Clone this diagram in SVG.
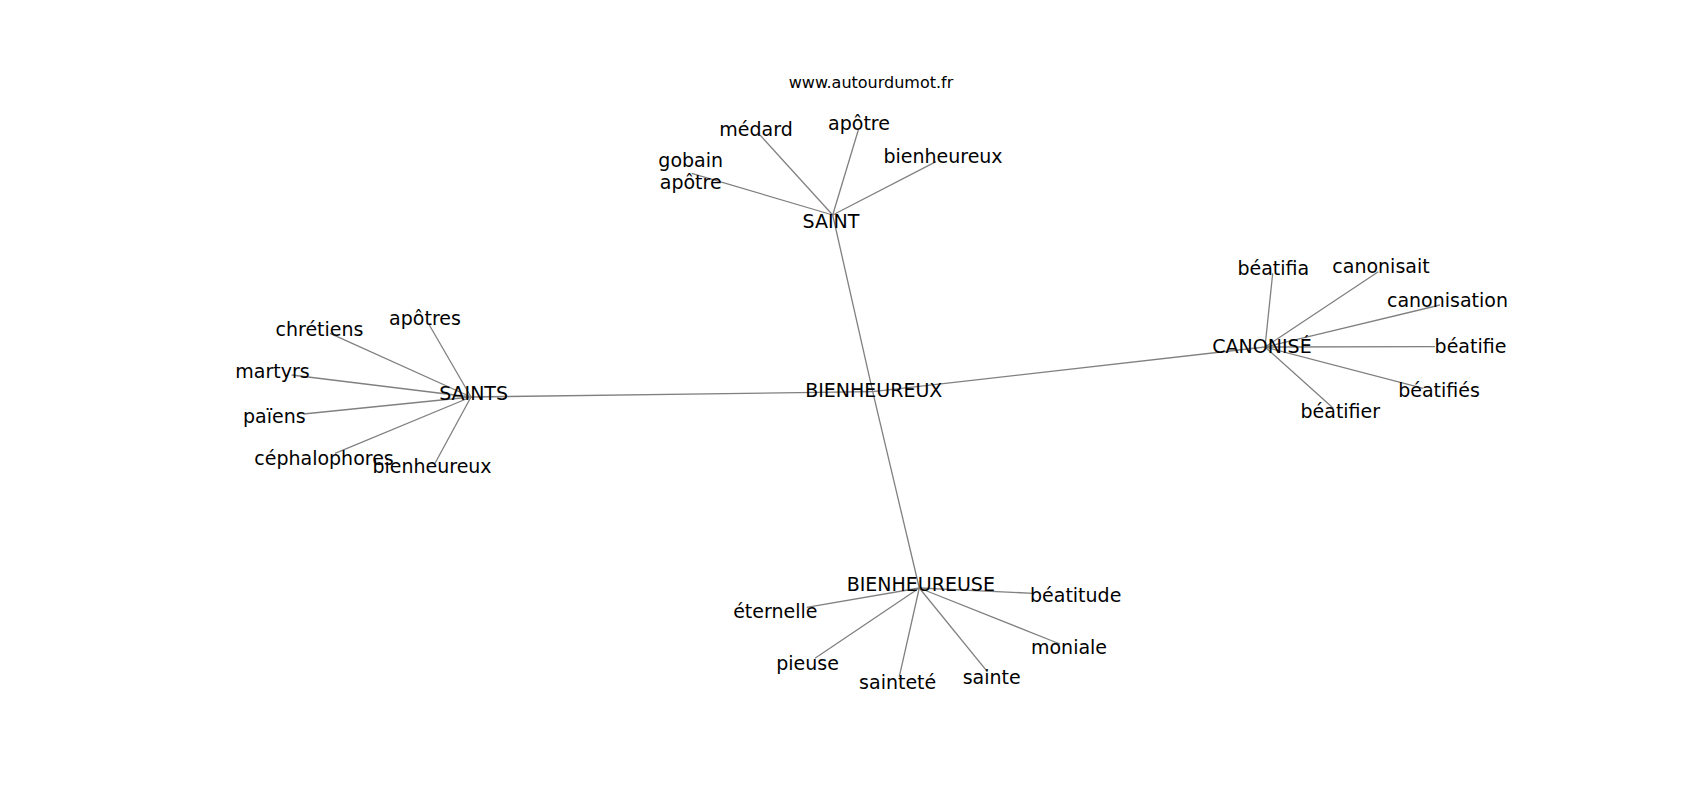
<svg xmlns="http://www.w3.org/2000/svg" width="1700" height="800" viewBox="0 0 1700 800">
<style>
.e{stroke:#808080;stroke-width:1.3;fill:none}
text{font-family:"DejaVu Sans","Liberation Sans",sans-serif;font-size:19px;fill:#000;text-anchor:middle}
.t{font-size:16px}
</style>
<rect width="1700" height="800" fill="#fff"/>
<g id="connectors">
<line class="e" x1="872.7" y1="391.7" x2="832.7" y2="215"/>
<line class="e" x1="872.7" y1="391.7" x2="471" y2="397"/>
<line class="e" x1="872.7" y1="391.7" x2="1265" y2="347"/>
<line class="e" x1="872.7" y1="391.7" x2="919.3" y2="588"/>
<line class="e" x1="832.7" y1="215" x2="760" y2="135"/>
<line class="e" x1="832.7" y1="215" x2="858.3" y2="130"/>
<line class="e" x1="832.7" y1="215" x2="936" y2="161.7"/>
<line class="e" x1="832.7" y1="215" x2="691.7" y2="173.3"/>
<line class="e" x1="471" y1="397" x2="429.3" y2="325"/>
<line class="e" x1="471" y1="397" x2="330" y2="333.3"/>
<line class="e" x1="471" y1="397" x2="291.7" y2="375"/>
<line class="e" x1="471" y1="397" x2="303.3" y2="414"/>
<line class="e" x1="471" y1="397" x2="335" y2="453.3"/>
<line class="e" x1="471" y1="397" x2="435" y2="463.3"/>
<line class="e" x1="1265" y1="347" x2="1272.7" y2="273.3"/>
<line class="e" x1="1265" y1="347" x2="1378.3" y2="271.7"/>
<line class="e" x1="1265" y1="347" x2="1440" y2="305"/>
<line class="e" x1="1265" y1="347" x2="1435" y2="346.7"/>
<line class="e" x1="1265" y1="347" x2="1423.3" y2="388.3"/>
<line class="e" x1="1265" y1="347" x2="1333.3" y2="408.3"/>
<line class="e" x1="919.3" y1="588" x2="1033.3" y2="593.3"/>
<line class="e" x1="919.3" y1="588" x2="806.7" y2="607.3"/>
<line class="e" x1="919.3" y1="588" x2="1060" y2="644"/>
<line class="e" x1="919.3" y1="588" x2="815" y2="658.3"/>
<line class="e" x1="919.3" y1="588" x2="899.3" y2="676.7"/>
<line class="e" x1="919.3" y1="588" x2="987.3" y2="671.7"/>
</g>
<g id="title"><text class="t" x="871" y="88">www.autourdumot.fr</text></g>
<g id="n-bienheureux"><text x="873.8" y="397.3">BIENHEUREUX</text></g>
<g id="n-saint"><text x="831" y="227.7">SAINT</text></g>
<g id="n-saints"><text x="473.6" y="400">SAINTS</text></g>
<g id="n-canonise"><text x="1262" y="353.3">CANONISÉ</text></g>
<g id="n-bienheureuse"><text x="920.8" y="590.7">BIENHEUREUSE</text></g>
<g id="n-medard"><text x="756" y="136">médard</text></g>
<g id="n-apotre"><text x="859" y="130">apôtre</text></g>
<g id="n-bienheureux-saint"><text x="943" y="162.7">bienheureux</text></g>
<g id="n-gobain-apotre"><text x="690.7" y="167.3">gobain</text><text x="690.7" y="189.3">apôtre</text></g>
<g id="n-apotres"><text x="425" y="325">apôtres</text></g>
<g id="n-chretiens"><text x="319.5" y="335.7">chrétiens</text></g>
<g id="n-martyrs"><text x="272.5" y="378.3">martyrs</text></g>
<g id="n-paiens"><text x="274.3" y="423.3">païens</text></g>
<g id="n-cephalophores"><text x="324" y="465">céphalophores</text></g>
<g id="n-bienheureux-saints"><text x="432" y="472.7">bienheureux</text></g>
<g id="n-beatifia"><text x="1273.3" y="275">béatifia</text></g>
<g id="n-canonisait"><text x="1381" y="273.3">canonisait</text></g>
<g id="n-canonisation"><text x="1447.5" y="307.3">canonisation</text></g>
<g id="n-beatifie"><text x="1470.5" y="352.7">béatifie</text></g>
<g id="n-beatifies"><text x="1439" y="397.3">béatifiés</text></g>
<g id="n-beatifier"><text x="1340.3" y="418.3">béatifier</text></g>
<g id="n-beatitude"><text x="1075.7" y="602.3">béatitude</text></g>
<g id="n-eternelle"><text x="775.3" y="618.3">éternelle</text></g>
<g id="n-moniale"><text x="1069" y="654.3">moniale</text></g>
<g id="n-pieuse"><text x="807.5" y="670">pieuse</text></g>
<g id="n-saintete"><text x="897.7" y="689">sainteté</text></g>
<g id="n-sainte"><text x="991.7" y="684">sainte</text></g>
</svg>
